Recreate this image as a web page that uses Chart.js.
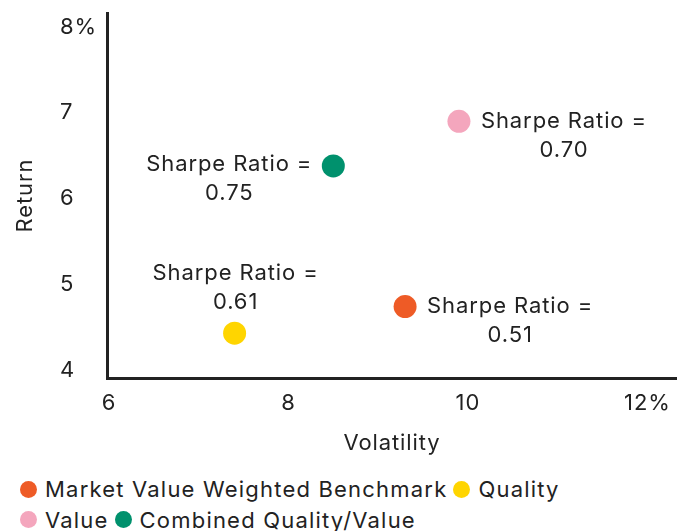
<!DOCTYPE html>
<html><head><meta charset="utf-8">
<script src="https://cdn.jsdelivr.net/npm/chart.js@4.4.0/dist/chart.umd.min.js"></script>
<style>
html,body{margin:0;padding:0;background:#fff;}
#wrap{position:relative;width:677px;height:531px;}
#c{position:absolute;left:0;top:0;}
#legend{position:absolute;left:20px;top:474px;width:650px;font-family:Inter,"Open Sans",sans-serif;font-size:22px;letter-spacing:1.2px;color:#222;line-height:30px;}
.li{display:inline-flex;align-items:center;margin-right:6px;white-space:nowrap;}
.dot{display:inline-block;width:17px;height:17px;border-radius:50%;margin-right:8px;}
</style></head>
<body><div id="wrap"><canvas id="c" width="677" height="465"></canvas><div id="legend"></div></div>
<script>
const seriesNames = ["Market Value Weighted Benchmark","Quality","Value","Combined Quality/Value"];
const volatility = [9.3, 7.4, 9.9, 8.5];
const returns = [4.74, 4.43, 6.9, 6.38];
const sharpe = ["0.51","0.61","0.70","0.75"];
const colors = ["#EE5B26","#FFD500","#F4A6BD","#00916D"];
const labelPlacement = ["right","above","right","left"];
const xTicks = [6,8,10,12];
const yTicks = [4,5,6,7,8];
const FONT = 'Inter, "Open Sans", sans-serif';
const LS = '0.9px';

const datasets = seriesNames.map((n,i)=>({
  label:n, data:[{x:volatility[i], y:returns[i]}],
  backgroundColor:colors[i], borderColor:colors[i], pointRadius:11.5, pointHoverRadius:11.5, borderWidth:0
}));

const spacing = {
  id:'spacing',
  beforeLayout(chart){ chart.ctx.letterSpacing = LS; },
  beforeDraw(chart){ chart.ctx.letterSpacing = LS; }
};

const annot = {
  id:'annot',
  afterDatasetsDraw(chart){
    const ctx = chart.ctx;
    ctx.save();
    ctx.letterSpacing = LS;
    ctx.font = '22px '+FONT;
    ctx.fillStyle = '#222';
    ctx.textBaseline = 'middle';
    chart.data.datasets.forEach((ds,i)=>{
      const el = chart.getDatasetMeta(i).data[0];
      const px = el.x, py = el.y;
      const l1 = 'Sharpe Ratio =', l2 = sharpe[i];
      const w = ctx.measureText(l1).width;
      let cx, y1;
      if (labelPlacement[i]==='right'){ cx = px + 22 + w/2; y1 = py; }
      else if (labelPlacement[i]==='left'){ cx = px - 21 - w/2; y1 = py - 2; }
      else { cx = px + 1; y1 = py - 60; }
      ctx.textAlign='center';
      ctx.fillText(l1, cx, y1);
      ctx.fillText(l2, cx, y1+29);
    });
    ctx.restore();
  }
};

new Chart(document.getElementById('c'), {
  type:'scatter',
  data:{datasets},
  options:{
    responsive:false, animation:false,
    layout:{autoPadding:false, padding:{top:13,right:0,left:60,bottom:0}},
    plugins:{legend:{display:false}, tooltip:{enabled:false}},
    scales:{
      x:{min:5.978,max:12.33,
        afterBuildTicks(s){ s.ticks = xTicks.map(v=>({value:v})); },
        afterFit(s){ s.height = 87; s.paddingLeft = 0; s.paddingRight = 0; },
        grid:{display:false, drawTicks:false},
        border:{display:true,color:'#222',width:3},
        ticks:{font:{family:FONT,size:22},color:'#222',padding:12,
          callback:(v)=> v===12 ? '12%' : String(v)},
        title:{display:true,text:'Volatility',font:{family:FONT,size:22},color:'#222',padding:{top:0,bottom:8}}
      },
      y:{min:3.907,max:8.163,
        afterBuildTicks(s){ s.ticks = yTicks.map(v=>({value:v})); },
        afterFit(s){ s.width = 47; s.paddingTop = 0; s.paddingBottom = 0; },
        grid:{display:false, drawTicks:false},
        border:{display:true,color:'#222',width:3},
        ticks:{font:{family:FONT,size:22},color:'#222',padding:9,crossAlign:'far',
          callback:(v)=> v===8 ? '8%' : String(v)},
        title:{display:true,text:'Return',font:{family:FONT,size:22},color:'#222',padding:{top:-48,bottom:0}}
      }
    }
  },
  plugins:[spacing, annot]
});

const lg = document.getElementById('legend');
seriesNames.forEach((n,i)=>{
  const s = document.createElement('span'); s.className='li';
  s.innerHTML = '<span class="dot" style="background:'+colors[i]+'"></span>'+n;
  lg.appendChild(s);
  if(i===1) lg.appendChild(document.createElement('br'));
});
</script></body></html>
